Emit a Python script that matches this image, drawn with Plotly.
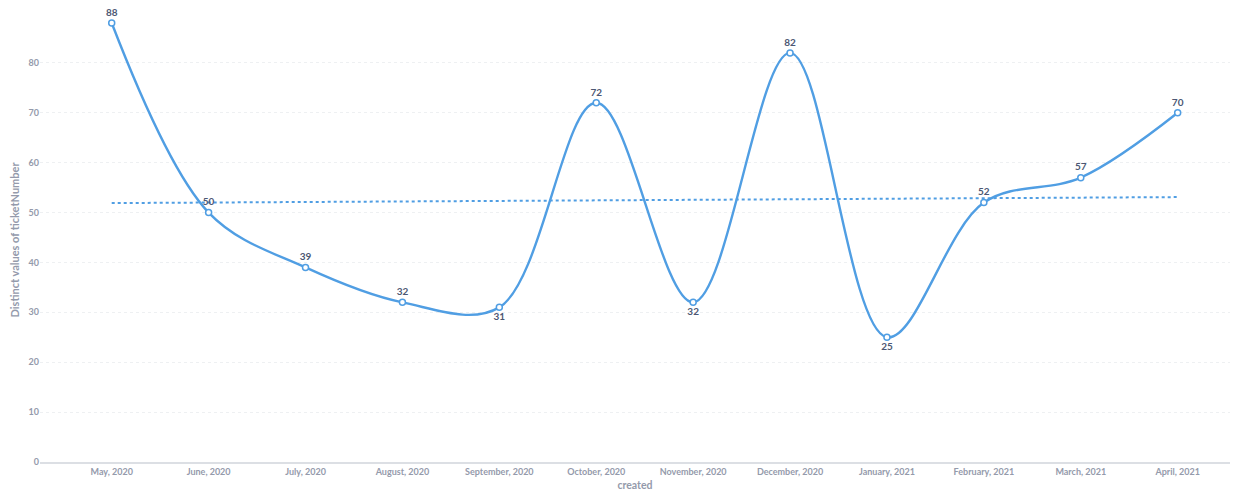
import plotly.graph_objects as go

months = ["May, 2020", "June, 2020", "July, 2020", "August, 2020", "September, 2020",
          "October, 2020", "November, 2020", "December, 2020", "January, 2021",
          "February, 2021", "March, 2021", "April, 2021"]
values = [88, 50, 39, 32, 31, 72, 32, 82, 25, 52, 57, 70]
label_pos = ["top center", "top center", "top center", "top center", "bottom center",
             "top center", "bottom center", "top center", "bottom center",
             "top center", "top center", "top center"]
trend_months = ["May, 2020", "April, 2021"]
trend_values = [51.9, 53.1]
y_ticks = [0, 10, 20, 30, 40, 50, 60, 70, 80]

BLUE = "#509ee3"
GRAY = "#949aab"

fig = go.Figure()
fig.add_trace(go.Scatter(
    x=trend_months, y=trend_values, mode="lines",
    line=dict(color=BLUE, width=2, dash="dot"),
    hoverinfo="skip", showlegend=False))
fig.add_trace(go.Scatter(
    x=months, y=values, mode="lines+markers+text",
    line=dict(color=BLUE, width=2.4, shape="spline", smoothing=1.0),
    marker=dict(size=6, color="white", line=dict(color=BLUE, width=1.5)),
    text=[str(v) for v in values], textposition=label_pos,
    textfont=dict(family="Lato", size=10, color="#4c5773", weight="bold"),
    cliponaxis=False,
    showlegend=False))

fig.update_layout(
    width=1234, height=491,
    margin=dict(l=40, r=4, t=18, b=29),
    plot_bgcolor="white", paper_bgcolor="white",
    font=dict(family="Lato", color=GRAY),
    xaxis=dict(type="category", categoryorder="array", categoryarray=months,
               range=[-0.74, 11.54], showgrid=False, automargin=False,
               showline=True, linecolor="#dcdfe4", linewidth=1.5,
               ticks="", tickfont=dict(family="Lato", size=9, color=GRAY, weight="bold"),
               title=dict(text="created", font=dict(family="Lato", size=10.5, color=GRAY, weight="bold"),
                          standoff=9),
               fixedrange=True),
    yaxis=dict(range=[0, 89], tickvals=y_ticks, showgrid=True, automargin=False,
               gridcolor="#eef0f2", griddash="dot", gridwidth=1,
               zeroline=False, showline=False, ticks="",
               tickfont=dict(family="Lato", size=9, color=GRAY, weight="bold"),
               title=dict(text="Distinct values of ticketNumber",
                          font=dict(family="Lato", size=11, color=GRAY, weight="bold"),
                          standoff=6),
               fixedrange=True),
)

fig.write_html("out.html", config={"displayModeBar": False})
